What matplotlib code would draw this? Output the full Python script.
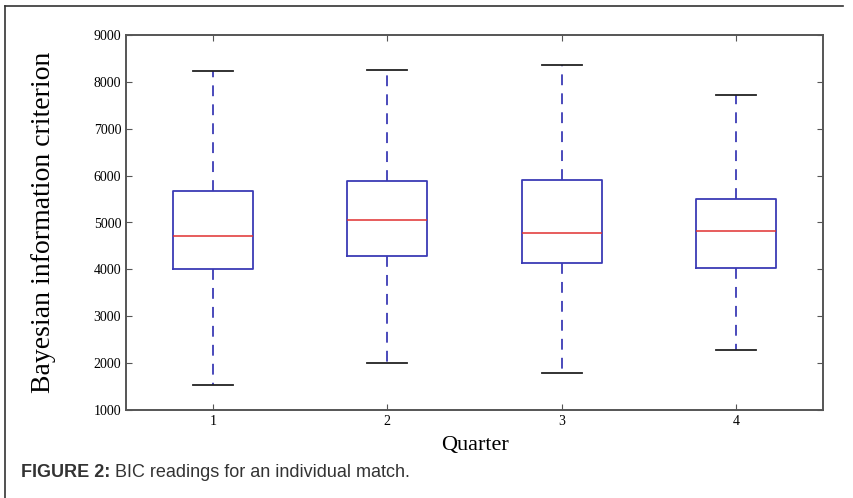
import matplotlib
matplotlib.use("Agg")
import matplotlib.pyplot as plt
from matplotlib.lines import Line2D

quarters = ["1", "2", "3", "4"]
whisker_low = [1530, 2000, 1790, 2280]
q1 = [4000, 4290, 4130, 4020]
median = [4710, 5060, 4780, 4820]
q3 = [5680, 5880, 5900, 5500]
whisker_high = [8225, 8260, 8360, 7720]
yticks = [1000, 2000, 3000, 4000, 5000, 6000, 7000, 8000, 9000]

stats = []
for i, q in enumerate(quarters):
    stats.append(dict(label=q, whislo=whisker_low[i], q1=q1[i], med=median[i],
                      q3=q3[i], whishi=whisker_high[i], fliers=[]))

fig = plt.figure(figsize=(8.54, 4.98), dpi=100)
ax = fig.add_axes([126 / 854, 1 - 410 / 498, (823 - 126) / 854, (410 - 35) / 498])

blue = "#3b3bb5"
ax.bxp(stats, positions=[1, 2, 3, 4], widths=0.46, showfliers=False,
       boxprops=dict(color=blue, linewidth=1.3),
       whiskerprops=dict(color=blue, linewidth=1.3, linestyle=(0, (6, 4.5))),
       capprops=dict(color="#222222", linewidth=1.3),
       medianprops=dict(color="#e03030", linewidth=1.1))

ax.set_xlim(0.5, 4.5)
ax.set_ylim(1000, 9000)
ax.set_yticks(yticks)
ax.set_xticks([1, 2, 3, 4])
ax.set_xticklabels(quarters)
ax.tick_params(direction="in", top=True, right=True, length=4, width=0.8,
               labelsize=10, color="#555555")
for lab in ax.get_xticklabels() + ax.get_yticklabels():
    lab.set_fontfamily("Liberation Serif")
for sp in ax.spines.values():
    sp.set_color("#555555")
    sp.set_linewidth(1.4)

ax.set_ylabel("Bayesian information criterion", fontfamily="Liberation Serif",
              fontsize=20, labelpad=27)
ax.set_xlabel("Quarter", fontfamily="Liberation Serif", fontsize=16, labelpad=6)

# outer frame (left and top visible)
fig.add_artist(Line2D([5 / 854, 843 / 854], [1 - 6 / 498, 1 - 6 / 498],
                      transform=fig.transFigure, color="#333333", linewidth=1.2))
fig.add_artist(Line2D([5 / 854, 5 / 854], [1 - 6 / 498, 0],
                      transform=fig.transFigure, color="#333333", linewidth=1.2))

fig.text(21 / 854, 1 - 477 / 498, "FIGURE 2:", fontfamily="Liberation Sans",
         fontweight="bold", fontsize=13, color="#333333", va="baseline")
fig.text(115 / 854, 1 - 477 / 498, "BIC readings for an individual match.",
         fontfamily="Liberation Sans", fontsize=13, color="#333333", va="baseline")

fig.savefig("out.png", dpi=100)
